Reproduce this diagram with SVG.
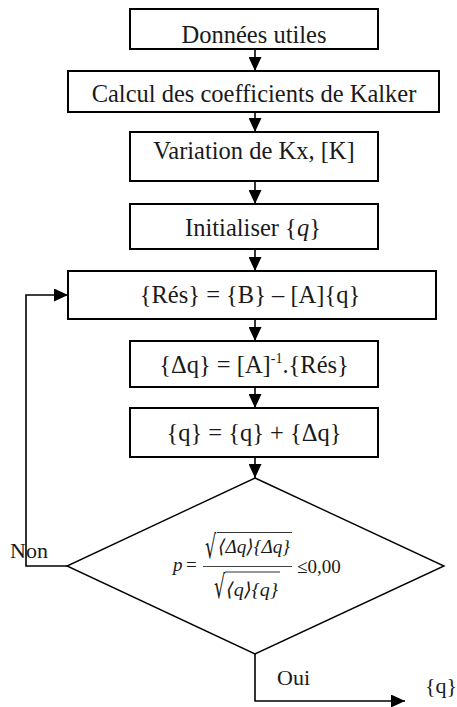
<svg xmlns="http://www.w3.org/2000/svg" width="457" height="707" viewBox="0 0 457 707">
<style>
.box{fill:#fff;stroke:#000;stroke-width:2}
.t{font-family:"Liberation Serif","Times New Roman",serif;font-size:24.5px;fill:#1a1a1a;text-anchor:middle}
.lbl{font-family:"Liberation Serif","Times New Roman",serif;font-size:22px;fill:#1a1a1a}
.m{font-family:"Liberation Serif","DejaVu Serif",serif;font-size:19px;fill:#1a1a1a}
.r{font-family:"DejaVu Serif",serif;font-size:32px;fill:#1a1a1a}
.c{fill:none;stroke:#000;stroke-width:1.6}
</style>
<defs>
<marker id="ah" markerWidth="14" markerHeight="13" refX="14" refY="6.5" orient="auto" markerUnits="userSpaceOnUse">
<path d="M0,0 L14,6.5 L0,13 z" fill="#000"/>
</marker>
</defs>
<g id="connectors">
<path class="c" d="M255,50 L255,71" marker-end="url(#ah)"/>
<path class="c" d="M255,113 L255,132" marker-end="url(#ah)"/>
<path class="c" d="M255,182 L255,204" marker-end="url(#ah)"/>
<path class="c" d="M255,250 L255,271" marker-end="url(#ah)"/>
<path class="c" d="M255,320 L255,341" marker-end="url(#ah)"/>
<path class="c" d="M255,388 L255,408" marker-end="url(#ah)"/>
<path class="c" d="M255,458 L255,478" marker-end="url(#ah)"/>
<path class="c" d="M67,566 L26,566 L26,295 L68,295" marker-end="url(#ah)"/>
<path class="c" d="M255,654 L255,701 L405,701" marker-end="url(#ah)"/>
</g>
<g id="n1">
<rect class="box" x="130" y="9" width="248" height="40"/>
<text class="t" x="254" y="42.5">Données utiles</text>
</g>
<g id="n2">
<rect class="box" x="68" y="71" width="371" height="41"/>
<text class="t" x="254" y="102">Calcul des coefficients de Kalker</text>
</g>
<g id="n3">
<rect class="box" x="130" y="132" width="248" height="49"/>
<text class="t" x="254" y="159">Variation de Kx, [K]</text>
</g>
<g id="n4">
<rect class="box" x="130" y="204" width="248" height="45"/>
<text class="t" x="253" y="236">Initialiser {<tspan font-style="italic">q</tspan>}</text>
</g>
<g id="n5">
<rect class="box" x="68" y="271" width="368" height="48"/>
<text class="t" x="250" y="303">{Rés} = {B} – [A]{q}</text>
</g>
<g id="n6">
<rect class="box" x="130" y="341" width="248" height="46"/>
<text class="t" x="254" y="373">{Δq} = [A]<tspan font-size="14" dy="-10">-1</tspan><tspan dy="10">.{Rés}</tspan></text>
</g>
<g id="n7">
<rect class="box" x="130" y="408" width="248" height="49"/>
<text class="t" x="254" y="441">{q} = {q} + {Δq}</text>
</g>
<g id="n8">
<polygon points="255,478 444,566 255,654 67,566" fill="#fff" stroke="#000" stroke-width="1.4"/>
<text class="m" x="173" y="571" font-style="italic">p</text>
<text class="m" x="186" y="571">=</text>
<line x1="203" y1="566.5" x2="292" y2="566.5" stroke="#444" stroke-width="1.2"/>
<text class="r" transform="translate(205,558) scale(0.55,1)">√</text>
<line x1="217" y1="532.5" x2="292" y2="532.5" stroke="#333" stroke-width="1"/>
<text class="m" x="218" y="553" font-style="italic" textLength="72" lengthAdjust="spacingAndGlyphs">⟨Δq⟩{Δq}</text>
<text class="r" transform="translate(214,598) scale(0.55,1)">√</text>
<line x1="225" y1="572" x2="280" y2="572" stroke="#333" stroke-width="1"/>
<text class="m" x="226" y="596" font-style="italic" textLength="52" lengthAdjust="spacingAndGlyphs">⟨q⟩{q}</text>
<text class="m" x="297" y="573" font-size="20">≤0,00</text>
</g>
<g id="labels">
<text class="lbl" x="10" y="558">Non</text>
<text class="lbl" x="277" y="685">Oui</text>
<text class="lbl" x="425" y="693" font-size="21">{q}</text>
</g>
</svg>
